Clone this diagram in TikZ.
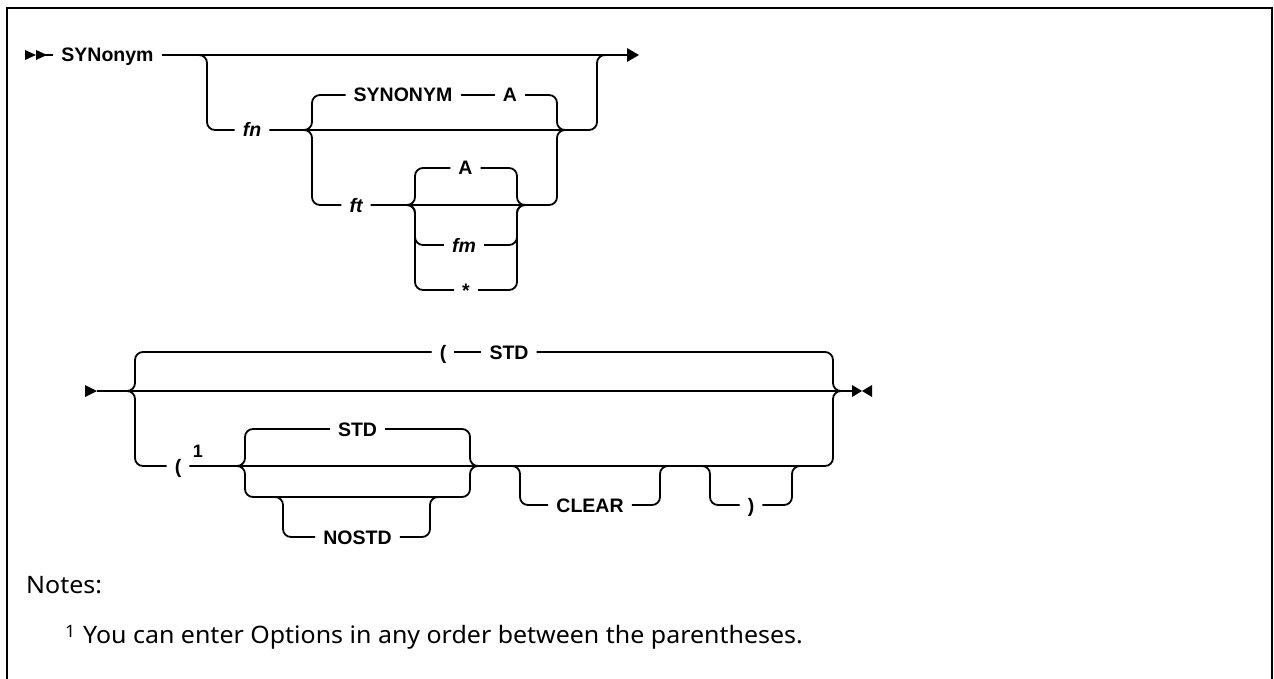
\documentclass[tikz,border=0pt]{standalone}
\usepackage{fontspec}
\setmainfont{Noto Sans}[FakeStretch=1.04]
\newfontfamily\lbfont{Liberation Sans}[BoldFont={Liberation Sans Bold}]
\begin{document}
\begin{tikzpicture}[x=1pt,y=-1pt,
  lbl/.style={font=\lbfont\bfseries\fontsize{19.5}{24}\selectfont, inner xsep=8pt, inner ysep=0pt, text height=14pt, text depth=0pt},
  itl/.style={lbl, font=\lbfont\bfseries\itshape\fontsize{19.5}{24}\selectfont},
  rr/.style={line width=1.8pt, rounded corners=8pt},
  ln/.style={line width=1.8pt},
  tip/.style={fill=black}]
\useasboundingbox (0,0) rectangle (1274,679);
\draw[line width=2.6pt] (7,679) -- (7,8) -- (1272,8) -- (1272,679);

% ---------- row 1 ----------
\coordinate (s0) at (36,55);
\coordinate (s1) at (53,55);
\coordinate (e1) at (627,55);
\fill[tip] (25,50) -- (36,55) -- (25,60) -- cycle;
\fill[tip] (36,50) -- (47,55) -- (36,60) -- cycle;
\draw[ln] (s0) -- (s1);
\node[lbl] (syn) at (107.5,55) {SYNonym};
\draw[ln] (syn.east) -- (e1);
\fill[tip] (e1) ++(0,-7) -- ++(12,7) -- ++(-12,7) -- cycle;

\coordinate (b1) at (207,55);
\node[itl] (fn) at (252,130) {fn};
\draw[rr] (197,55) -- (b1) -- (207,130) -- (fn.west);
\coordinate (m1) at (597,130);
\draw[rr] (fn.east) -- (m1) -- (597,55) -- (609,55);

\coordinate (b2) at (312,130);
\node[lbl] (synu) at (403,95) {SYNONYM};
\node[lbl] (a1) at (510,95) {A};
\draw[rr] (302,130) -- (b2) -- (312,95) -- (synu.west);
\draw[ln] (synu.east) -- (a1.west);
\coordinate (m2) at (557,130);
\draw[rr] (a1.east) -- (557,95) -- (m2) -- (567,130);

\node[itl] (ft) at (356,205) {ft};
\draw[rr] (302,130) -- (b2) -- (312,205) -- (ft.west);
\draw[rr] (ft.east) -- (557,205) -- (m2) -- (567,130);

\coordinate (b3) at (415,205);
\coordinate (m3) at (517,205);
\node[lbl] (a2) at (465.5,168) {A};
\node[itl] (fm) at (464,245) {fm};
\node[lbl] (star) at (466,290) {*};
\draw[rr] (405,205) -- (b3) -- (415,168) -- (a2.west);
\draw[rr] (a2.east) -- (517,168) -- (m3) -- (527,205);
\draw[rr] (405,205) -- (b3) -- (415,245) -- (fm.west);
\draw[rr] (fm.east) -- (517,245) -- (m3) -- (527,205);
\draw[rr] (405,205) -- (b3) -- (415,290) -- (star.west);
\draw[rr] (star.east) -- (517,290) -- (m3) -- (527,205);

% ---------- row 2 ----------
\coordinate (t0) at (97,391);
\coordinate (t1) at (852,391);
\fill[tip] (85,385) -- (97,391) -- (85,397) -- cycle;
\draw[ln] (t0) -- (t1);
\fill[tip] (852,385) -- (862,391) -- (852,397) -- cycle;
\fill[tip] (872,385) -- (862,391) -- (872,397) -- cycle;

\coordinate (c1) at (135,391);
\coordinate (c2) at (833,391);
\node[lbl] (lp1) at (443,352) {(};
\node[lbl] (std1) at (509,352) {STD};
\draw[rr] (125,391) -- (c1) -- (135,352) -- (lp1.west);
\draw[ln] (lp1.east) -- (std1.west);
\draw[rr] (std1.east) -- (833,352) -- (c2) -- (843,391);

\node[lbl] (lp2) at (178,466) {(};
\node[font=\lbfont\bfseries\fontsize{18}{22}\selectfont, inner sep=0pt, anchor=base] (sup) at (198,457) {1};
\draw[rr] (125,391) -- (c1) -- (135,466) -- (lp2.west);
\draw[rr] (lp2.east) -- (833,466) -- (c2) -- (843,391);

\coordinate (d1) at (245,466);
\coordinate (d2) at (470,466);
\node[lbl] (std2) at (357.5,429) {STD};
\draw[rr] (235,466) -- (d1) -- (245,429) -- (std2.west);
\draw[rr] (std2.east) -- (470,429) -- (d2) -- (480,466);
\draw[rr] (235,466) -- (d1) -- (245,497) -- (470,497) -- (d2) -- (480,466);

\node[lbl] (nostd) at (357.5,537) {NOSTD};
\draw[rr] (273,497) -- (283,497) -- (283,537) -- (nostd.west);
\draw[rr] (nostd.east) -- (430,537) -- (430,497) -- (440,497);

\node[lbl] (clear) at (590,505) {CLEAR};
\draw[rr] (510,466) -- (520,466) -- (520,505) -- (clear.west);
\draw[rr] (clear.east) -- (660,505) -- (660,466) -- (670,466);

\node[lbl] (rp) at (751,505) {)};
\draw[rr] (700,466) -- (710,466) -- (710,505) -- (rp.west);
\draw[rr] (rp.east) -- (792,505) -- (792,466) -- (802,466);

% ---------- notes ----------
\node[anchor=base west, inner sep=0pt, font=\fontsize{24}{28}\selectfont] (notes) at (26,593) {Notes:};
\node[anchor=base west, inner sep=0pt, font=\fontsize{17}{20}\selectfont] (fnum) at (65,637) {1};
\node[anchor=base west, inner sep=0pt, font=\fontsize{24}{28}\selectfont] (fntext) at (83,643) {You can enter Options in any order between the parentheses.};
\end{tikzpicture}
\end{document}
